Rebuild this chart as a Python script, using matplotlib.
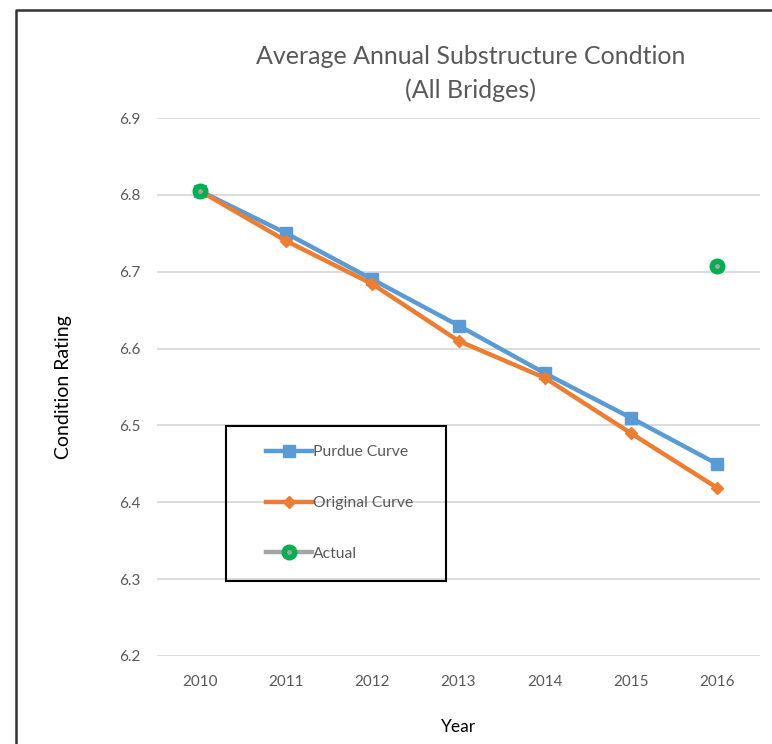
import numpy as np
import matplotlib
matplotlib.use('Agg')
import matplotlib.pyplot as plt
from matplotlib.lines import Line2D
from matplotlib.patches import Rectangle
from matplotlib.legend_handler import HandlerTuple

plt.rcParams['font.family'] = ['Lato', 'DejaVu Sans']

# condition ratings by year
years = ['2010', '2011', '2012', '2013', '2014', '2015', '2016']
purdue = [6.805, 6.75, 6.69, 6.63, 6.568, 6.51, 6.45]
original = [6.805, 6.74, 6.684, 6.61, 6.562, 6.49, 6.419]
actual = [6.805, np.nan, np.nan, np.nan, np.nan, np.nan, 6.708]

W, H = 772, 744
fig = plt.figure(figsize=(W / 100, H / 100), dpi=100)
ax = fig.add_axes([157 / W, 1 - 656 / H, (760 - 157) / W, (656 - 118) / H])

x = np.arange(len(years))
grey = '#595959'

ax.plot(x, purdue, color='#5B9BD5', lw=3.2, marker='s', ms=8.5, zorder=3)
ax.plot(x, original, color='#ED7D31', lw=3.2, marker='D', ms=6, zorder=3)
ax.plot(x, actual, color='#A5A5A5', lw=3.2, marker='o', ms=10.5,
        mfc='#00B050', mec='#00B050', zorder=4)
ax.plot(x, actual, ls='none', marker='o', ms=2.5, color='#A5A5A5', zorder=5)

ax.set_xlim(-0.5, len(years) - 0.5)
ax.set_ylim(6.2, 6.9)
ax.set_xticks(x)
ax.set_xticklabels(years)
ax.set_yticks(np.arange(6.2, 6.91, 0.1))
ax.set_yticklabels([f'{v:.1f}' for v in np.arange(6.2, 6.91, 0.1)])
ax.tick_params(length=0, labelsize=11, labelcolor=grey)
ax.tick_params(axis='x', pad=14)
ax.tick_params(axis='y', pad=12)
ax.grid(axis='y', color='#D9D9D9', lw=1.3)
ax.set_axisbelow(True)
for s in ax.spines.values():
    s.set_visible(False)

ax.set_xlabel('Year', fontsize=12.5, labelpad=21)
ax.set_ylabel('Condition Rating', fontsize=14, labelpad=34)

fig.text(471 / W, 1 - 56 / H, 'Average Annual Substructure Condtion', ha='center',
         va='center', fontsize=18, color=grey)
fig.text(471 / W, 1 - 90 / H, '(All Bridges)', ha='center', va='center',
         fontsize=18, color=grey)

# legend with its own box
h1 = Line2D([], [], color='#5B9BD5', lw=3.2, marker='s', ms=8.5)
h2 = Line2D([], [], color='#ED7D31', lw=3.2, marker='D', ms=6)
h3a = Line2D([], [], color='#A5A5A5', lw=3.2, marker='o', ms=10.5, mfc='#00B050', mec='#00B050')
h3b = Line2D([], [], ls='none', marker='o', ms=2.5, color='#A5A5A5')
fig.add_artist(Rectangle((226 / W, 1 - 581 / H), 220 / W, 155 / H, transform=fig.transFigure,
                         fill=False, ec='black', lw=1.5))
fig.legend([h1, h2, (h3a, h3b)], ['Purdue Curve', 'Original Curve', 'Actual'],
           handler_map={tuple: HandlerTuple(ndivide=1, pad=0)},
           loc='center left', bbox_to_anchor=(266 / W, 1 - 503 / H), frameon=False,
           fontsize=11.3, labelcolor=grey, handlelength=2.9, handletextpad=0.1,
           labelspacing=2.35, borderpad=0, borderaxespad=0)

# outer frame
fig.add_artist(Line2D([16 / W, 16 / W, 1], [0, 1 - 10 / H, 1 - 10 / H],
                      transform=fig.transFigure, color='#333333', lw=1.8))

fig.savefig('out.png', dpi=100, facecolor='white')
